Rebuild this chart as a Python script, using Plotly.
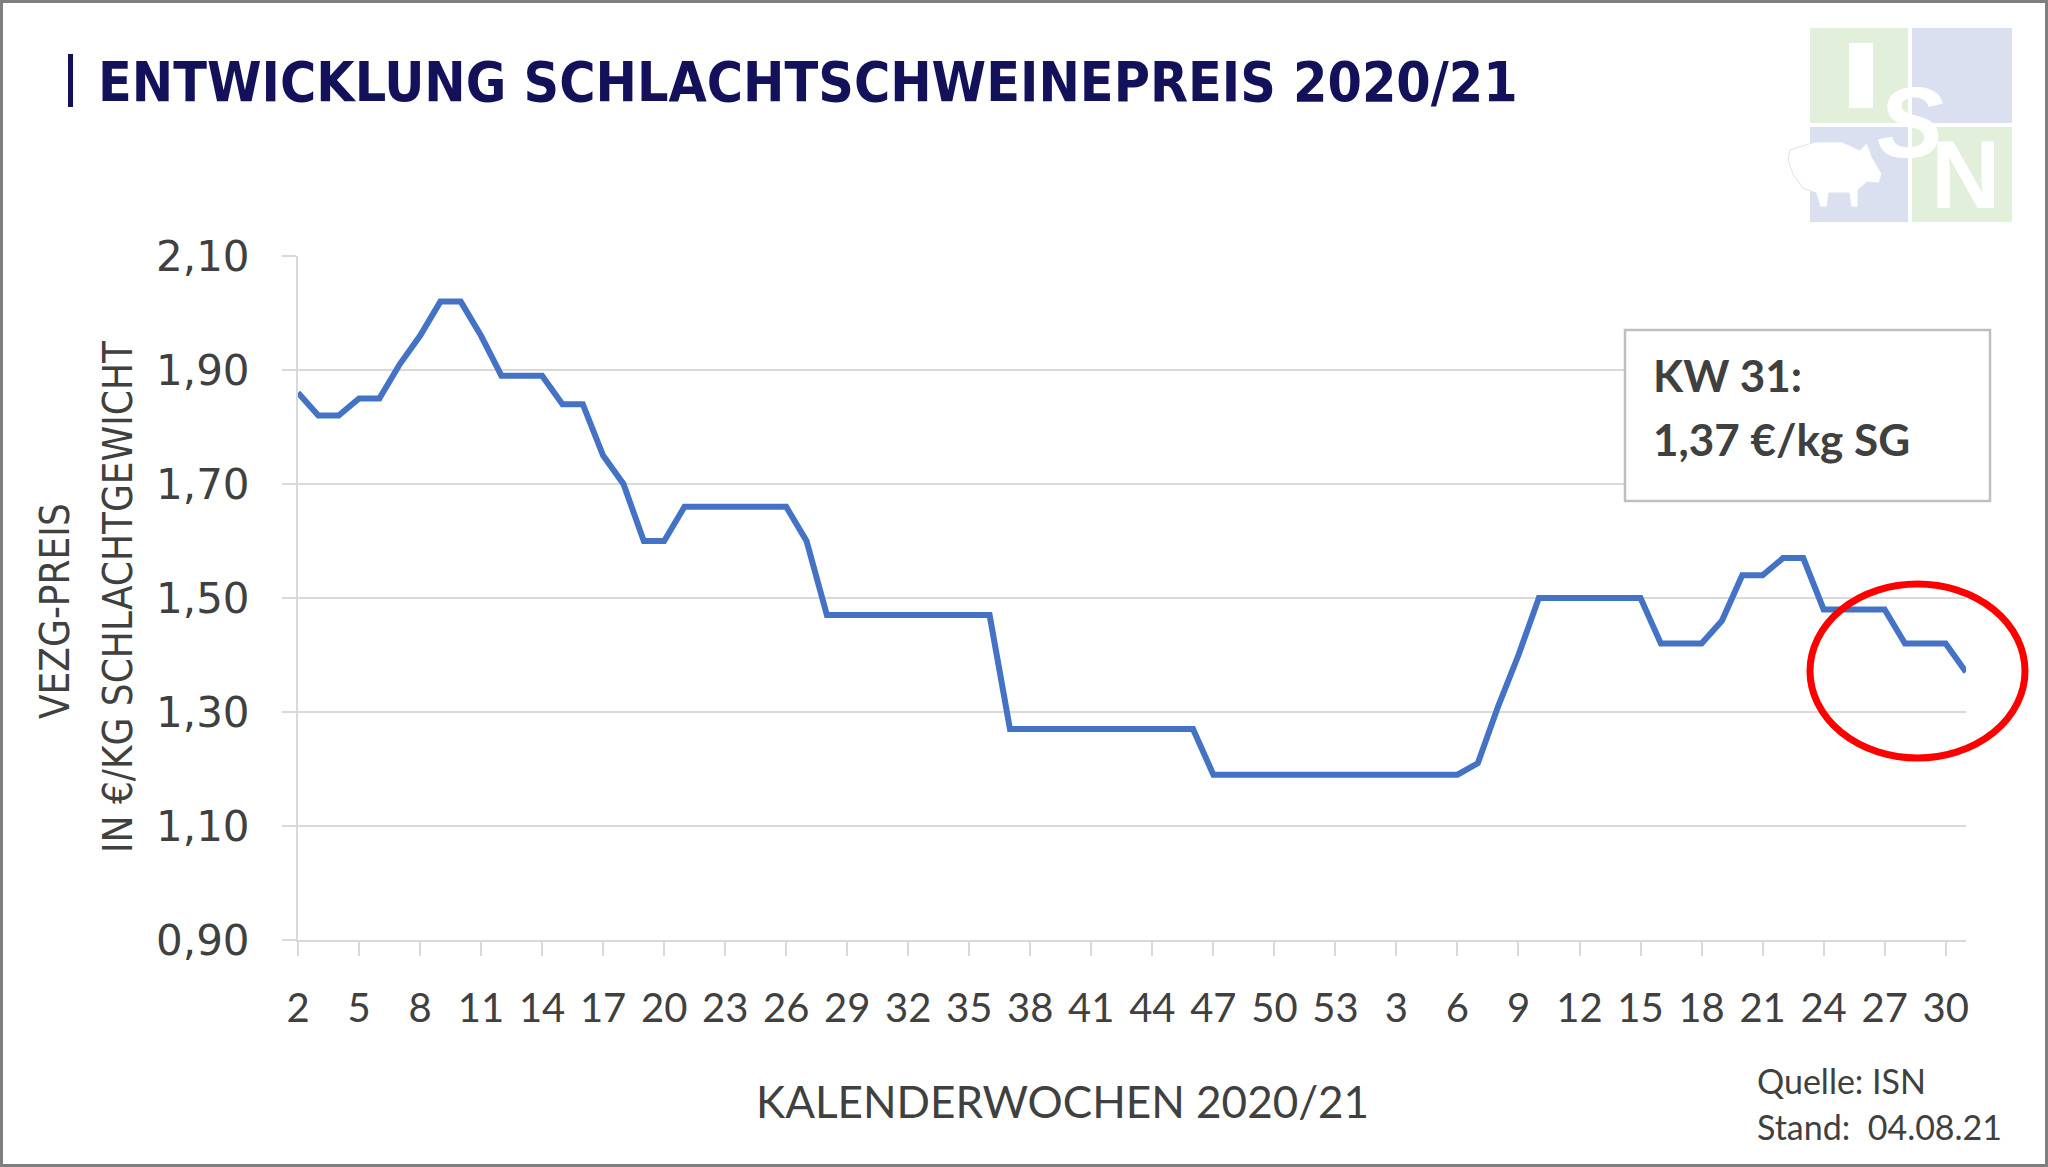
import plotly.graph_objects as go

# ---------------- data ----------------
weeks_2020 = [2, 3, 4, 5, 6, 7, 8, 9, 10, 11, 12, 13, 14, 15, 16, 17, 18, 19, 20,
              21, 22, 23, 24, 25, 26, 27, 28, 29, 30, 31, 32, 33, 34, 35, 36, 37,
              38, 39, 40, 41, 42, 43, 44, 45, 46, 47, 48, 49, 50, 51, 52, 53]
weeks_2021 = [1, 2, 3, 4, 5, 6, 7, 8, 9, 10, 11, 12, 13, 14, 15, 16, 17, 18, 19,
              20, 21, 22, 23, 24, 25, 26, 27, 28, 29, 30, 31]

prices_2020 = [1.86, 1.82, 1.82, 1.85, 1.85, 1.91, 1.96, 2.02, 2.02, 1.96,
               1.89, 1.89, 1.89, 1.84, 1.84, 1.75, 1.70, 1.60, 1.60, 1.66,
               1.66, 1.66, 1.66, 1.66, 1.66, 1.60, 1.47, 1.47, 1.47, 1.47,
               1.47, 1.47, 1.47, 1.47, 1.47, 1.27, 1.27, 1.27, 1.27, 1.27,
               1.27, 1.27, 1.27, 1.27, 1.27, 1.19, 1.19, 1.19, 1.19, 1.19,
               1.19, 1.19]
prices_2021 = [1.19, 1.19, 1.19, 1.19, 1.19, 1.19, 1.21, 1.31, 1.40, 1.50,
               1.50, 1.50, 1.50, 1.50, 1.50, 1.42, 1.42, 1.42, 1.46, 1.54,
               1.54, 1.57, 1.57, 1.48, 1.48, 1.48, 1.48, 1.42, 1.42, 1.42,
               1.37]

y_ticks = [0.90, 1.10, 1.30, 1.50, 1.70, 1.90, 2.10]

title_text = "ENTWICKLUNG SCHLACHTSCHWEINEPREIS 2020/21"
x_title = "KALENDERWOCHEN 2020/21"
y_title_1 = "VEZG-PREIS"
y_title_2 = "IN €/KG SCHLACHTGEWICHT"
box_line_1 = "KW 31:"
box_line_2 = "1,37 €/kg SG"
source_1 = "Quelle: ISN"
source_2 = "Stand:\u00a0 04.08.21"

# ---------------- build ----------------
categories = [f"2020-KW{w}" for w in weeks_2020] + [f"2021-KW{w}" for w in weeks_2021]
week_labels = [str(w) for w in weeks_2020 + weeks_2021]
prices = prices_2020 + prices_2021

W, H = 2048, 1167
L, R, T, B = 298, 1966, 256, 940


def px(x):
    return (x - L) / (R - L)


def py(y):
    return (B - y) / (B - T)


TEXT = "#404040"
GRID = "#D9D9D9"
NAVY = "#12115A"
NARROW = "DejaVu Sans Condensed, Liberation Sans Narrow, DejaVu Sans, sans-serif"

fig = go.Figure()
fig.add_trace(go.Scatter(
    x=categories, y=prices, mode="lines",
    line=dict(color="#4472C4", width=6, shape="linear"),
    hoverinfo="x+y", showlegend=False,
))

shapes = []
# outer frame
shapes.append(dict(type="rect", xref="paper", yref="paper",
                   x0=px(1.5), x1=px(W - 1.5), y0=py(1.5), y1=py(H - 1.5),
                   line=dict(color="#7F7F7F", width=3), layer="above"))
# title bar
shapes.append(dict(type="rect", xref="paper", yref="paper",
                   x0=px(68), x1=px(73), y0=py(54), y1=py(107),
                   fillcolor=NAVY, line=dict(width=0)))
# annotation box
shapes.append(dict(type="rect", xref="paper", yref="paper",
                   x0=px(1625), x1=px(1990), y0=py(330), y1=py(501),
                   fillcolor="white", line=dict(color="#BFBFBF", width=2.5),
                   layer="above"))
# red circle
shapes.append(dict(type="circle", xref="paper", yref="paper",
                   x0=px(1810), x1=px(2025), y0=py(584), y1=py(758),
                   line=dict(color="#FF0000", width=7), layer="above"))
# logo squares
LG_GREEN = "#E2EFDA"
LG_BLUE = "#DAE0F0"
for (x0, y0, x1, y1, c) in [(1810, 28, 1908, 123, LG_GREEN),
                            (1912, 28, 2012, 123, LG_BLUE),
                            (1810, 127, 1908, 222, LG_BLUE),
                            (1912, 127, 2012, 222, LG_GREEN)]:
    shapes.append(dict(type="rect", xref="paper", yref="paper",
                       x0=px(x0), x1=px(x1), y0=py(y0), y1=py(y1),
                       fillcolor=c, line=dict(width=0), layer="above"))
# the "I" bar
shapes.append(dict(type="rect", xref="paper", yref="paper",
                   x0=px(1849), x1=px(1873), y0=py(43), y1=py(108),
                   fillcolor="white", line=dict(width=0), layer="above"))
# pig silhouette
pig = [(1790, 150), (1815, 142), (1842, 142), (1860, 150), (1867, 143),
       (1872, 157), (1882, 174), (1879, 183), (1867, 182), (1858, 190),
       (1858, 207), (1851, 207), (1849, 193), (1829, 193), (1827, 207),
       (1820, 207), (1816, 193), (1803, 188), (1793, 174), (1788, 160)]
path = "M " + " L ".join(f"{px(a):.5f},{py(b):.5f}" for a, b in pig) + " Z"
shapes.append(dict(type="path", xref="paper", yref="paper", path=path,
                   fillcolor="white", line=dict(color="#DDE2EE", width=1),
                   layer="above"))

annotations = []


def ann(text, x, y, size, family, color=TEXT, xanchor="center", yanchor="middle", angle=0):
    annotations.append(dict(text=text, x=px(x), y=py(y), xref="paper", yref="paper",
                            xanchor=xanchor, yanchor=yanchor, showarrow=False,
                            textangle=angle, font=dict(size=size, family=family, color=color)))


ann(f"<b>{title_text}</b>", 96, 82, 55, NARROW, color=NAVY, xanchor="left")
ann(y_title_1, 55, 611, 40, NARROW, angle=-90)
ann(y_title_2, 118, 597, 40, NARROW, angle=-90)
ann(x_title, 1062, 1101, 44, "Lato, sans-serif")
ann(f"<b>{box_line_1}</b>", 1651, 375, 44, "Lato, sans-serif", xanchor="left")
ann(f"<b>{box_line_2}</b>", 1651, 439, 44, "Lato, sans-serif", xanchor="left")
ann(source_1, 1755, 1080, 34, "Lato, sans-serif", xanchor="left")
ann(source_2, 1755, 1126, 34, "Lato, sans-serif", xanchor="left")
# logo letters
ann("<b><i>S</i></b>", 1910, 122, 100, "Liberation Sans, Arial, sans-serif", color="white")
ann("<b>N</b>", 1965, 175, 96, "Liberation Sans, Arial, sans-serif", color="white")

fig.update_layout(
    width=W, height=H,
    margin=dict(l=L, r=W - R, t=T, b=H - B, pad=0),
    paper_bgcolor="white", plot_bgcolor="white",
    separators=",.",
    shapes=shapes, annotations=annotations,
    showlegend=False,
)
fig.update_xaxes(
    type="category", categoryorder="array", categoryarray=categories,
    range=[0, len(categories) - 1],
    tickmode="array", tickvals=categories[::3], ticktext=week_labels[::3],
    ticks="outside", ticklen=14, tickwidth=2, tickcolor=GRID,
    showline=True, linecolor=GRID, linewidth=2,
    showgrid=False, zeroline=False,
    tickfont=dict(family="Lato, sans-serif", size=40, color=TEXT),
    ticklabelstandoff=18,
)
fig.update_yaxes(
    range=[0.90, 2.10], tickmode="array", tickvals=y_ticks, tickformat=".2f",
    ticks="outside", ticklen=14, tickwidth=2, tickcolor=GRID,
    showline=True, linecolor=GRID, linewidth=2,
    showgrid=True, gridcolor=GRID, gridwidth=2, zeroline=False,
    tickfont=dict(family="DejaVu Sans, sans-serif", size=42, color=TEXT),
    ticklabelstandoff=24,
)

fig.write_html(
    "out.html",
    config={"displayModeBar": False},
    post_script="document.body.style.margin='0px';document.body.style.padding='0px';"
                "document.documentElement.style.overflow='hidden';",
)
